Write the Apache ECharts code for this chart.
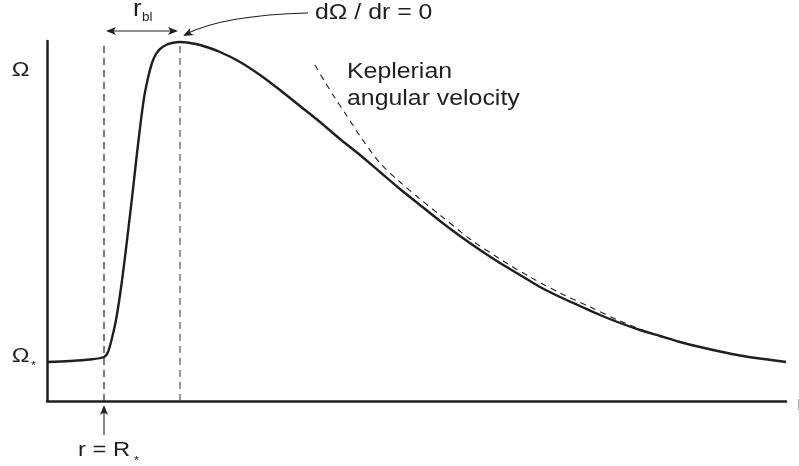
<!DOCTYPE html>
<html>
<head>
<meta charset="utf-8">
<script src="https://cdn.jsdelivr.net/npm/echarts@6/dist/echarts.min.js"></script>
<style>
  html, body { margin: 0; padding: 0; background: #fff; }
  #chart { width: 799px; height: 466px; }
</style>
</head>
<body>
<div id="chart"></div>
<script>
// Radius (arbitrary units) and angular velocity of the disc / boundary layer
const radius = [0, 23, 43, 57, 61, 65, 69, 73, 77, 81, 85, 89, 93, 97, 101, 105, 109, 113, 119, 125, 133,
  143, 153, 173, 193, 213, 233, 253, 273, 293, 313, 333, 353, 373, 393, 413, 433, 453, 473, 493, 513,
  533, 553, 573, 593, 613, 633, 653, 673, 693, 713, 739];
const omega = [39, 40, 41.5, 44, 49, 63, 81, 106, 136, 169, 203, 239, 273, 303, 323, 338, 347, 352, 356, 358, 359,
  358, 356, 349, 339, 326, 311, 295, 279, 262, 246, 229, 212, 196, 180, 165, 151, 138, 126, 114, 104,
  95, 86, 78, 71, 65, 59, 54, 49.5, 45.5, 42.5, 39];

// Keplerian angular velocity, drawn over the outer part of the disc
const radiusKep = [268, 278, 288, 298, 313, 333, 353, 373, 393, 423, 453, 483, 513, 543, 573, 603];
const omegaKep = [336, 319, 303, 288, 265, 238, 219, 202, 186, 162, 142, 124, 108, 94, 80, 68];

// Stellar surface and the radius where dΩ/dr = 0
const rStar = 57;
const rPeak = 133;
const axisMax = { r: 739, omega: 360 };

const ink = '#1f1f1f';
const font = '"Liberation Sans", Arial, sans-serif';

const chart = echarts.init(document.getElementById('chart'), null, { renderer: 'canvas' });

const axisCommon = {
  type: 'value',
  axisLine: { show: true, lineStyle: { color: ink, width: 2.5 } },
  axisTick: { show: false },
  axisLabel: { show: false },
  splitLine: { show: false }
};

chart.setOption({
  animation: false,
  backgroundColor: '#fff',
  grid: { left: 47, right: 13, top: 41, bottom: 65 },
  xAxis: Object.assign({ min: 0, max: axisMax.r }, axisCommon),
  yAxis: Object.assign({ min: 0, max: axisMax.omega }, axisCommon),
  series: [
    {
      name: 'Ω',
      type: 'line',
      data: radius.map((r, i) => [r, omega[i]]),
      smooth: 0.3,
      showSymbol: false,
      lineStyle: { color: ink, width: 2.4 },
      z: 3
    },
    {
      name: 'Keplerian',
      type: 'line',
      data: radiusKep.map((r, i) => [r, omegaKep[i]]),
      smooth: 0.3,
      showSymbol: false,
      lineStyle: { color: ink, width: 1.1, type: [6, 5] },
      z: 2
    },
    {
      name: 'R*',
      type: 'line',
      data: [[rStar, 0], [rStar, axisMax.omega]],
      showSymbol: false,
      lineStyle: { color: ink, width: 1.2, type: [7, 5] }
    },
    {
      name: 'peak',
      type: 'line',
      data: [[rPeak, 0], [rPeak, axisMax.omega]],
      showSymbol: false,
      lineStyle: { color: '#555', width: 1.2, type: [7, 5] }
    }
  ]
});

// Annotations placed relative to the axes
const px = (x, y) => chart.convertToPixel({ gridIndex: 0 }, [x, y]);
const xStar = px(rStar, 0)[0];
const xPeak = px(rPeak, 0)[0];
const yBase = px(0, 0)[1];

function arrowHead(tipX, tipY, angle, len, half) {
  const c = Math.cos(angle), s = Math.sin(angle);
  const bx = tipX - c * len, by = tipY - s * len;
  return {
    type: 'polygon',
    shape: { points: [[tipX, tipY], [bx - s * half, by + c * half], [tipX - c * len * 0.75, tipY - s * len * 0.75], [bx + s * half, by - c * half]] },
    style: { fill: ink }
  };
}

// Labels use a slightly widened sans-serif face
const WIDE = 1.13;
function text(str, x, y, size, align) {
  return {
    type: 'text',
    x: x,
    y: y,
    scaleX: WIDE,
    style: { text: str, x: 0, y: 0, font: size + 'px ' + font, fill: ink, align: align || 'left', verticalAlign: 'middle' }
  };
}

const yArrow = 31;
const curveStart = [308, 13], curveCtrl = [225, 15], curveEnd = [xPeak + 3, 36];
const curveAngle = Math.atan2(curveEnd[1] - curveCtrl[1], curveEnd[0] - curveCtrl[0]);

chart.setOption({
  graphic: [
    // r_bl double arrow between the two dashed lines
    { type: 'line', shape: { x1: xStar + 4, y1: yArrow, x2: xPeak - 4, y2: yArrow }, style: { stroke: ink, lineWidth: 1.2 } },
    arrowHead(xStar + 2, yArrow, Math.PI, 10, 4),
    arrowHead(xPeak - 2, yArrow, 0, 10, 4),
    text('r', 133, 10, 23, 'left'),
    text('bl', 142, 18, 12, 'left'),

    // dΩ/dr = 0 pointer
    { type: 'bezierCurve', shape: { x1: curveStart[0], y1: curveStart[1], x2: curveEnd[0] + 3, y2: curveEnd[1] - 2, cpx1: curveCtrl[0], cpy1: curveCtrl[1] }, style: { stroke: ink, lineWidth: 1.1, fill: null } },
    arrowHead(curveEnd[0], curveEnd[1], curveAngle, 10, 4),
    text('dΩ / dr = 0', 315, 13, 22, 'left'),

    // Keplerian label
    text('Keplerian', 347, 72, 22, 'left'),
    text('angular velocity', 347, 99, 22, 'left'),

    // Axis labels
    text('Ω', 20.5, 70, 21, 'center'),
    text('Ω', 20.5, 356, 21, 'center'),
    text('*', 33.5, 366, 11, 'center'),
    text('r', 797, yBase + 3, 21, 'left'),

    // r = R* pointer
    { type: 'line', shape: { x1: xStar, y1: 435, x2: xStar, y2: 412 }, style: { stroke: ink, lineWidth: 1.1 } },
    arrowHead(xStar, 405, -Math.PI / 2, 10, 4),
    text('r = R', 78, 450, 21, 'left'),
    text('*', 136.5, 461, 11, 'center')
  ]
});
</script>
</body>
</html>
